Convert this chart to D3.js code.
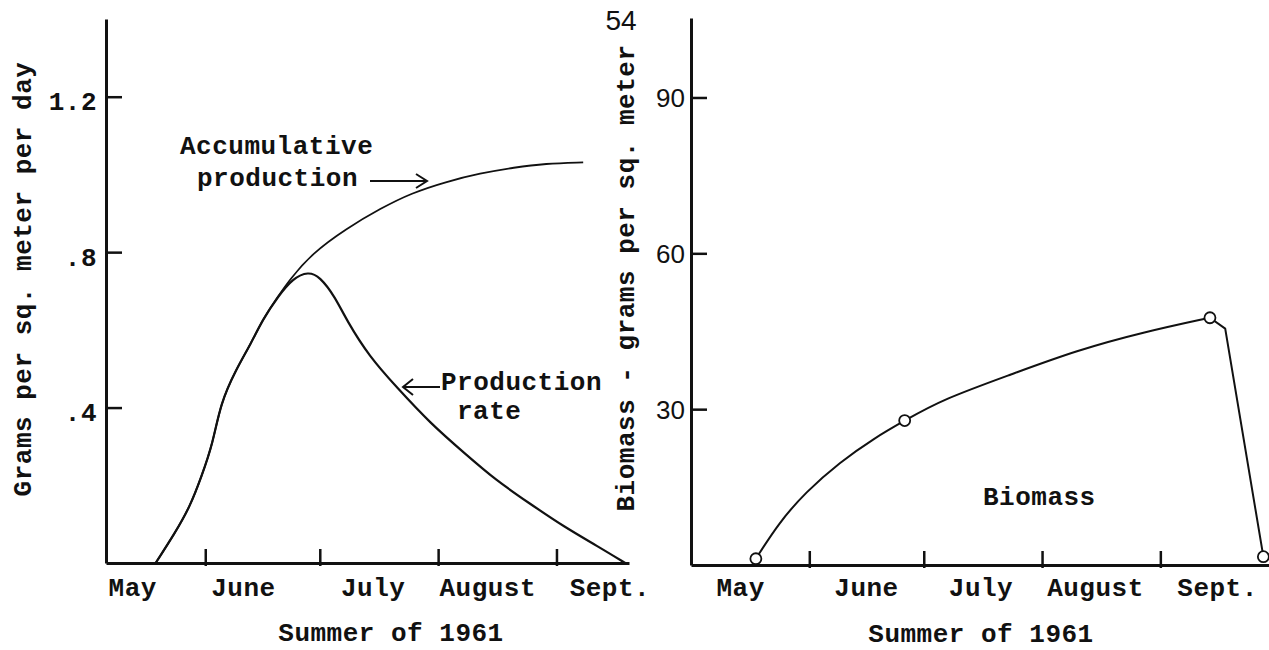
<!DOCTYPE html>
<html>
<head>
<meta charset="utf-8">
<script src="https://cdn.jsdelivr.net/npm/d3@7.9.0/dist/d3.min.js"></script>
<style>
  html, body { margin: 0; padding: 0; background: #fff; }
  svg { display: block; }
  .tw { font-family: "Liberation Mono", "Courier New", monospace; font-weight: bold; font-size: 26px; letter-spacing: 0.5px; fill: #111; }
  .plain { font-family: "Liberation Sans", Arial, sans-serif; font-size: 26px; fill: #111; }
</style>
</head>
<body>
<svg id="chart" width="1269" height="650"></svg>
<script>
// month boundaries (tick marks) and month names
const monthStarts = ["06-01", "07-01", "08-01", "09-01"];
const monthNames = ["May", "June", "July", "August", "Sept."];
const leftLabelDates = ["05-13", "06-11", "07-15", "08-14", "09-15"];
const rightLabelDates = ["05-14", "06-16", "07-16", "08-15", "09-16"];

// left panel: grams per sq. meter per day
const leftTicks = [0.4, 0.8, 1.2];
const rateDates = ["05-19", "05-24", "05-28", "05-31", "06-03", "06-05", "06-09", "06-13", "06-16", "06-20",
  "06-24", "06-28", "07-01", "07-05", "07-08", "07-14", "07-21", "07-30", "08-08", "08-16", "08-25",
  "09-03", "09-12", "09-19"];
const rateValues = [0, 0.076, 0.145, 0.222, 0.308, 0.411, 0.497, 0.565, 0.626, 0.685,
  0.733, 0.750, 0.737, 0.685, 0.625, 0.531, 0.454, 0.359, 0.282, 0.214, 0.153,
  0.093, 0.042, 0];
const accumDates = ["05-19", "05-24", "05-28", "05-31", "06-03", "06-05", "06-09", "06-13", "06-16", "06-20",
  "06-23", "06-29", "07-08", "07-17", "07-25", "08-03", "08-12", "08-21", "08-29", "09-08"];
const accumValues = [0, 0.076, 0.145, 0.222, 0.308, 0.411, 0.497, 0.565, 0.626, 0.685,
  0.728, 0.797, 0.861, 0.913, 0.952, 0.981, 1.003, 1.018, 1.028, 1.031];

// right panel: biomass, grams per sq. meter
const rightTicks = [30, 60, 90];
const biomassDates = ["05-18", "05-24", "05-31", "06-09", "06-18", "06-26", "07-06", "07-24", "08-10", "08-28", "09-14"];
const biomassValues = [1.2, 8.1, 14.0, 19.8, 24.4, 27.8, 31.9, 36.7, 41.3, 44.9, 47.6];
const biomassDropDates = ["09-14", "09-18", "09-28"];
const biomassDropValues = [47.6, 45.5, 1.6];
const sampleDates = ["05-18", "06-26", "09-14", "09-28"];
const sampleValues = [1.2, 27.8, 47.6, 1.6];

const parse = d3.timeParse("%Y-%m-%d");
const toDate = (s) => parse("1961-" + s);
const pairs = (dates, values) => dates.map((d, i) => ({ date: toDate(d), value: values[i] }));

const svg = d3.select("#chart");

const xL = d3.scaleTime().domain([toDate("05-06"), toDate("09-20")]).range([106, 629]);
const yL = d3.scaleLinear().domain([0, 1.4]).range([563, 19]);
const xR = d3.scaleTime().domain([toDate("05-01"), toDate("09-30")]).range([691, 1271]);
const yR = d3.scaleLinear().domain([0, 105.3]).range([565, 18]);

function drawAxes(x, y, ticks, fmt, labelClass, padding, dy, labelDates) {
  let yAxis = svg.append("g")
    .attr("transform", `translate(${x.range()[0]},0)`)
    .call(d3.axisLeft(y).tickValues(ticks).tickSizeInner(-16).tickSizeOuter(0)
      .tickPadding(padding).tickFormat(fmt));
  yAxis.attr("font-family", null).attr("font-size", null);
  yAxis.select(".domain").attr("stroke", "#111").attr("stroke-width", 3);
  yAxis.selectAll(".tick line").attr("stroke", "#111").attr("stroke-width", 2.5);
  yAxis.selectAll(".tick text").attr("class", labelClass).attr("dy", dy);

  let xAxis = svg.append("g")
    .attr("transform", `translate(0,${y(0)})`)
    .call(d3.axisBottom(x).tickValues(monthStarts.map(toDate)).tickSizeInner(-14)
      .tickSizeOuter(0).tickFormat(""));
  xAxis.select(".domain").attr("stroke", "#111").attr("stroke-width", 3);
  xAxis.selectAll(".tick line").attr("stroke", "#111").attr("stroke-width", 2.5).attr("y1", 3);

  svg.append("g").selectAll("text")
    .data(monthNames)
    .join("text")
    .attr("class", "tw")
    .attr("x", (d, i) => x(toDate(labelDates[i])))
    .attr("y", 596)
    .attr("text-anchor", "middle")
    .text((d) => d);
}

drawAxes(xL, yL, leftTicks, (d) => d3.format(".1f")(d).replace(/^0/, ""), "tw", 9, "0.5em", leftLabelDates);
drawAxes(xR, yR, rightTicks, d3.format("d"), "plain", 6, "0.36em", rightLabelDates);

// curves
let smooth = (x, y) => d3.line().x((d) => x(d.date)).y((d) => y(d.value)).curve(d3.curveBasis);
let straight = (x, y) => d3.line().x((d) => x(d.date)).y((d) => y(d.value));

svg.append("path").attr("d", smooth(xL, yL)(pairs(accumDates, accumValues)))
  .attr("fill", "none").attr("stroke", "#111").attr("stroke-width", 1.8);
svg.append("path").attr("d", smooth(xL, yL)(pairs(rateDates, rateValues)))
  .attr("fill", "none").attr("stroke", "#111").attr("stroke-width", 2.2);

svg.append("path").attr("d", smooth(xR, yR)(pairs(biomassDates, biomassValues)))
  .attr("fill", "none").attr("stroke", "#111").attr("stroke-width", 2);
svg.append("path").attr("d", straight(xR, yR)(pairs(biomassDropDates, biomassDropValues)))
  .attr("fill", "none").attr("stroke", "#111").attr("stroke-width", 2).attr("stroke-linejoin", "round");

svg.append("g").selectAll("circle")
  .data(pairs(sampleDates, sampleValues))
  .join("circle")
  .attr("cx", (d) => xR(d.date))
  .attr("cy", (d) => yR(d.value))
  .attr("r", 5.5)
  .attr("fill", "#fff")
  .attr("stroke", "#111")
  .attr("stroke-width", 1.8);

// axis titles
svg.append("text").attr("class", "tw").attr("text-anchor", "middle")
  .attr("transform", "translate(31,279) rotate(-90)")
  .text("Grams per sq. meter per day");
svg.append("text").attr("class", "tw").attr("text-anchor", "middle")
  .attr("transform", "translate(634,278) rotate(-90)")
  .text("Biomass - grams per sq. meter");
svg.append("text").attr("class", "tw").attr("text-anchor", "middle")
  .attr("x", 391).attr("y", 641).text("Summer of 1961");
svg.append("text").attr("class", "tw").attr("text-anchor", "middle")
  .attr("x", 981).attr("y", 642).text("Summer of 1961");
svg.append("text").attr("class", "plain").attr("text-anchor", "middle")
  .attr("x", 621).attr("y", 30).style("font-size", "28px").text("54");

// annotations
svg.append("text").attr("class", "tw").attr("x", 180).attr("y", 154).text("Accumulative");
svg.append("text").attr("class", "tw").attr("x", 197).attr("y", 186).text("production");
svg.append("path").attr("d", "M370,181H426M416,174L427,181L416,188")
  .attr("fill", "none").attr("stroke", "#111").attr("stroke-width", 2);

svg.append("text").attr("class", "tw").attr("x", 441).attr("y", 390).text("Production");
svg.append("text").attr("class", "tw").attr("x", 457).attr("y", 419).text("rate");
svg.append("path").attr("d", "M440,387H404M413,379L403,387L413,395")
  .attr("fill", "none").attr("stroke", "#111").attr("stroke-width", 2);

svg.append("text").attr("class", "tw").attr("x", 983).attr("y", 505).text("Biomass");
</script>
</body>
</html>
